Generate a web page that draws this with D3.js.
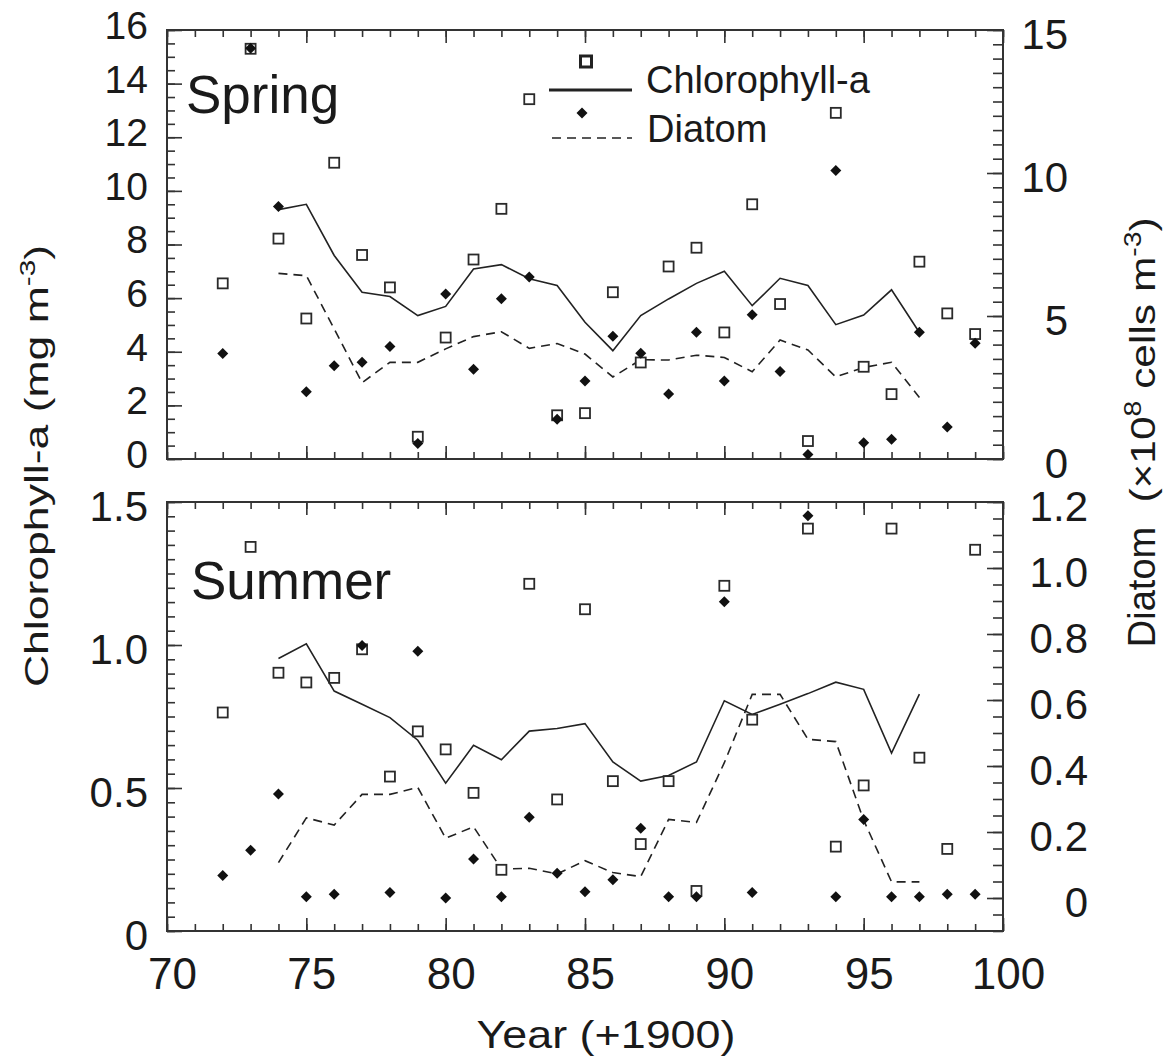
<!DOCTYPE html>
<meta charset="UTF-8">
<style>
  body { margin: 0; background: #fff; }
  svg { display: block; font-family: "Liberation Sans", Arial, Helvetica, sans-serif; }
  .tick text { fill: #1a1a1a; }
  .tick line { stroke: #333; stroke-width: 1.6px; }
  .frame { fill: none; stroke: #333; stroke-width: 2px; }
  .mean { fill: none; stroke: #222; stroke-width: 1.6px; }
  .dash { stroke-dasharray: 9, 6; }
  .chl { fill: #fff; stroke: #2a2a2a; stroke-width: 1.8px; }
  .dia { fill: #111; }
  .title { fill: #1a1a1a; }
</style>
<body>
<script src="https://cdn.jsdelivr.net/npm/d3@7"></script>
<script>
// yearly observations (year + 1900)
var years = [72, 73, 74, 75, 76, 77, 78, 79, 80, 81, 82, 83, 84, 85,
  86, 87, 88, 89, 90, 91, 92, 93, 94, 95, 96, 97, 98, 99];
// running means
var meanYears = [74, 75, 76, 77, 78, 79, 80, 81, 82, 83, 84, 85,
  86, 87, 88, 89, 90, 91, 92, 93, 94, 95, 96, 97];

// Spring: chlorophyll-a (mg m-3) and diatom (x10^8 cells m-3)
var springChl = [6.55, 15.3, 8.22, 5.24, 11.05, 7.61, 6.40, 0.83, 4.53, 7.44, 9.33, 13.42, 1.63, 1.71,
  6.22, 3.60, 7.18, 7.88, 4.72, 9.50, 5.78, 0.67, 12.91, 3.44, 2.42, 7.36, 5.43, 4.66];
var springDia = [3.69, 14.36, 8.83, 2.35, 3.26, 3.38, 3.93, 0.54, 5.77, 3.14, 5.60, 6.36, 1.39, 2.73,
  4.29, 3.70, 2.27, 4.43, 2.73, 5.04, 3.06, 0.16, 10.09, 0.57, 0.69, 4.43, 1.12, 4.05];
var springChlMean = [9.30, 9.50, 7.59, 6.22, 6.06, 5.35, 5.69, 7.09, 7.25, 6.72, 6.47, 5.10,
  4.04, 5.35, 5.97, 6.55, 7.00, 5.72, 6.74, 6.47, 5.01, 5.37, 6.31, 4.72];
var springDiaMean = [6.49, 6.41, 4.55, 2.67, 3.38, 3.38, 3.85, 4.28, 4.45, 3.87, 4.04, 3.67,
  2.87, 3.47, 3.46, 3.63, 3.55, 3.05, 4.16, 3.81, 2.87, 3.20, 3.38, 2.15];

// Summer
var summerChl = [0.764, 1.343, 0.903, 0.869, 0.885, 0.985, 0.540, 0.698, 0.635, 0.483, 0.214, 1.214, 0.460, 1.125,
  0.524, 0.304, 0.524, 0.140, 1.207, 0.739, null, 1.407, 0.295, 0.509, 1.407, 0.606, 0.287, 1.333];
var summerDia = [0.068, 0.145, 0.315, 0.004, 0.011, 0.765, 0.017, 0.748, 0.0, 0.118, 0.004, 0.245, 0.075, 0.019,
  0.055, 0.211, 0.004, 0.004, 0.898, 0.017, null, 1.158, 0.004, 0.238, 0.004, 0.004, 0.011, 0.011];
var summerChlMean = [0.953, 1.004, 0.839, 0.793, 0.746, 0.667, 0.517, 0.649, 0.599, 0.699, 0.708, 0.725,
  0.591, 0.524, 0.544, 0.591, 0.805, 0.757, 0.793, 0.830, 0.870, 0.845, 0.622, 0.828];
var summerDiaMean = [0.107, 0.243, 0.221, 0.314, 0.314, 0.335, 0.181, 0.216, 0.088, 0.090, 0.073, 0.113,
  0.077, 0.065, 0.238, 0.229, 0.410, 0.617, 0.617, 0.481, 0.474, 0.236, 0.049, 0.049];

// axis ticks
var xMajor = [70, 75, 80, 85, 90, 95, 100];
var springLeftTicks = [0, 2, 4, 6, 8, 10, 12, 14, 16];
var springRightTicks = [0, 5, 10, 15];
var summerLeftTicks = [0, 0.5, 1.0, 1.5];
var summerRightTicks = [0, 0.2, 0.4, 0.6, 0.8, 1.0, 1.2];

var width = 1168, height = 1064;
var left = 167, right = 1003;

var svg = d3.select("body").append("svg")
  .attr("width", width)
  .attr("height", height);

var x = d3.scaleLinear().domain([70, 100]).range([left, right]);

var fmt = function(d) { return d === 0 ? "0" : d3.format(".1f")(d); };

var panels = [
  {
    name: "Spring", top: 30, bottom: 459,
    chl: springChl, dia: springDia, chlMean: springChlMean, diaMean: springDiaMean,
    leftDomain: [0, 16], rightDomain: [0, 15],
    leftTicks: springLeftTicks, leftMinor: d3.range(0, 33).map(function(i) { return i * 0.5; }),
    rightTicks: springRightTicks, rightMinor: d3.range(0, 31).map(function(i) { return i * 0.5; }),
    leftFmt: d3.format("d"), rightFmt: d3.format("d"),
    leftFont: 39, leftNudge: -4, rightNudge: 5, rightEdge: 65,
    labelPos: [186, 113]
  },
  {
    name: "Summer", top: 502, bottom: 931,
    chl: summerChl, dia: summerDia, chlMean: summerChlMean, diaMean: summerDiaMean,
    leftDomain: [0, 1.5], rightDomain: [-0.1, 1.2],
    leftTicks: summerLeftTicks, leftMinor: d3.range(0, 31).map(function(i) { return i * 0.05; }),
    rightTicks: summerRightTicks, rightMinor: d3.range(-2, 25).map(function(i) { return i * 0.05; }),
    leftFmt: fmt, rightFmt: fmt,
    leftFont: 42, leftNudge: 5, rightNudge: 5, rightEdge: 85,
    labelPos: [191, 599]
  }
];

panels.forEach(function(p, pi) {
  var yL = d3.scaleLinear().domain(p.leftDomain).range([p.bottom, p.top]);
  var yR = d3.scaleLinear().domain(p.rightDomain).range([p.bottom, p.top]);
  var g = svg.append("g").attr("class", "panel");

  // x ticks on top and bottom edges, pointing in
  var xMinor = d3.range(70, 101);
  [["bottom", p.bottom, d3.axisBottom], ["top", p.top, d3.axisTop]].forEach(function(e) {
    g.append("g").attr("transform", "translate(0," + e[1] + ")")
      .call(e[2](x).tickValues(xMinor).tickSizeInner(-7).tickSizeOuter(0).tickFormat(""))
      .call(function(s) { s.select(".domain").remove(); });
    var ax = g.append("g").attr("transform", "translate(0," + e[1] + ")")
      .call(e[2](x).tickValues(xMajor).tickSizeInner(-13).tickSizeOuter(0).tickPadding(27))
      .call(function(s) { s.select(".domain").remove(); });
    ax.selectAll("text").attr("font-size", 44).attr("font-family", null)
      .attr("transform", "translate(5,0)");
    if (!(e[0] === "bottom" && pi === 1)) ax.selectAll("text").remove();
  });

  // left axis
  g.append("g").attr("transform", "translate(" + left + ",0)")
    .call(d3.axisLeft(yL).tickValues(p.leftMinor).tickSizeInner(-8).tickSizeOuter(0).tickFormat(""))
    .call(function(s) { s.select(".domain").remove(); });
  var la = g.append("g").attr("transform", "translate(" + left + ",0)")
    .call(d3.axisLeft(yL).tickValues(p.leftTicks).tickSizeInner(-15).tickSizeOuter(0)
      .tickPadding(19).tickFormat(p.leftFmt))
    .call(function(s) { s.select(".domain").remove(); });
  la.selectAll("text").attr("font-size", p.leftFont).attr("font-family", null)
    .attr("transform", "translate(0," + p.leftNudge + ")");

  // right axis
  g.append("g").attr("transform", "translate(" + right + ",0)")
    .call(d3.axisRight(yR).tickValues(p.rightMinor).tickSizeInner(-10).tickSizeOuter(0).tickFormat(""))
    .call(function(s) { s.select(".domain").remove(); });
  var ra = g.append("g").attr("transform", "translate(" + right + ",0)")
    .call(d3.axisRight(yR).tickValues(p.rightTicks).tickSizeInner(-16).tickSizeOuter(0)
      .tickFormat(p.rightFmt))
    .call(function(s) { s.select(".domain").remove(); });
  ra.selectAll("text").attr("font-size", 42).attr("font-family", null)
    .attr("text-anchor", "end").attr("x", p.rightEdge)
    .attr("transform", "translate(0," + p.rightNudge + ")");

  g.append("rect").attr("class", "frame")
    .attr("x", left).attr("y", p.top)
    .attr("width", right - left).attr("height", p.bottom - p.top);

  // running means
  var chlLine = d3.line().x(function(d, i) { return x(meanYears[i]); }).y(function(d) { return yL(d); });
  var diaLine = d3.line().x(function(d, i) { return x(meanYears[i]); }).y(function(d) { return yR(d); });
  g.append("path").attr("class", "mean").attr("d", chlLine(p.chlMean));
  g.append("path").attr("class", "mean dash").attr("d", diaLine(p.diaMean));

  // chlorophyll squares
  g.selectAll("rect.chl").data(years.filter(function(y, i) { return p.chl[i] != null; }))
    .enter().append("rect").attr("class", "chl")
    .attr("x", function(y) { return x(y) - 5; })
    .attr("y", function(y) { return yL(p.chl[years.indexOf(y)]) - 5; })
    .attr("width", 10).attr("height", 10);

  // diatom diamonds
  g.selectAll("path.dia").data(years.filter(function(y, i) { return p.dia[i] != null; }))
    .enter().append("path").attr("class", "dia")
    .attr("transform", function(y) {
      return "translate(" + x(y) + "," + yR(p.dia[years.indexOf(y)]) + ")";
    })
    .attr("d", "M0,-5.5L5.5,0L0,5.5L-5.5,0Z");

  g.append("text").attr("class", "title")
    .attr("x", p.labelPos[0]).attr("y", p.labelPos[1])
    .attr("font-size", 53).text(p.name);
});

// legend
var lg = svg.append("g");
lg.append("rect").attr("x", 580.5).attr("y", 56).attr("width", 11).attr("height", 11)
  .attr("fill", "#fff").attr("stroke", "#222").attr("stroke-width", 3);
lg.append("line").attr("x1", 549).attr("x2", 632).attr("y1", 90).attr("y2", 90)
  .attr("stroke", "#222").attr("stroke-width", 3);
lg.append("path").attr("class", "dia").attr("transform", "translate(582,113)")
  .attr("d", "M0,-5.5L5.5,0L0,5.5L-5.5,0Z");
lg.append("line").attr("class", "mean dash").attr("x1", 552).attr("x2", 632)
  .attr("y1", 138).attr("y2", 138);
lg.append("text").attr("class", "title").attr("x", 646).attr("y", 93)
  .attr("font-size", 38).text("Chlorophyll-a");
lg.append("text").attr("class", "title").attr("x", 647).attr("y", 142)
  .attr("font-size", 38).text("Diatom");

// axis titles
var xt = svg.append("text").attr("class", "title")
  .attr("transform", "translate(606,1048) scale(1.15,1)")
  .attr("text-anchor", "middle").attr("font-size", 39).text("Year (+1900)");

var lt = svg.append("text").attr("class", "title")
  .attr("transform", "translate(48,466) rotate(-90) scale(1.35,1)")
  .attr("text-anchor", "middle").attr("font-size", 33);
lt.append("tspan").text("Chlorophyll-a (mg m");
lt.append("tspan").attr("font-size", 22).attr("dy", -13).text("-3");
lt.append("tspan").attr("dy", 13).text(")");

svg.append("text").attr("class", "title")
  .attr("transform", "translate(1155,587) rotate(-90)")
  .attr("text-anchor", "middle").attr("font-size", 38).text("Diatom");

var rt = svg.append("text").attr("class", "title")
  .attr("transform", "translate(1155,360) rotate(-90) scale(1.18,1)")
  .attr("text-anchor", "middle").attr("font-size", 36);
rt.append("tspan").text("(\u00d710");
rt.append("tspan").attr("font-size", 24).attr("dy", -14).text("8");
rt.append("tspan").attr("dy", 14).text(" cells m");
rt.append("tspan").attr("font-size", 24).attr("dy", -14).text("-3");
rt.append("tspan").attr("dy", 14).text(")");
</script>
</body>
